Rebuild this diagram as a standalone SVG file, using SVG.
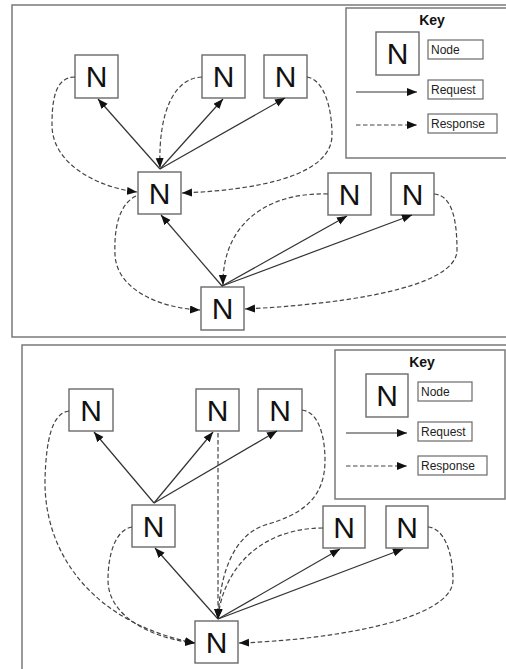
<svg xmlns="http://www.w3.org/2000/svg" width="506" height="669" viewBox="0 0 506 669">
<style>
.frame{fill:#fff;stroke:#7a7a7a;stroke-width:1.5}
.box{fill:#fff;stroke:#6a6a6a;stroke-width:1.4}
.lbl{fill:#fff;stroke:#6a6a6a;stroke-width:1.2}
.n{font-family:"Liberation Sans",Arial,sans-serif;font-size:30px;fill:#111;text-anchor:middle}
.t{font-family:"Liberation Sans",Arial,sans-serif;font-size:12px;fill:#222}
.k{font-family:"Liberation Sans",Arial,sans-serif;font-size:14px;font-weight:bold;fill:#111;text-anchor:middle}
.req{fill:none;stroke:#333;stroke-width:1.2;marker-end:url(#ah)}
.res{fill:none;stroke:#444;stroke-width:1.2;stroke-dasharray:4.5,2.5;marker-end:url(#ah)}
</style>
<defs>
<marker id="ah" markerUnits="userSpaceOnUse" markerWidth="11" markerHeight="9" refX="10" refY="4" orient="auto">
<path d="M0,0 L10,4 L0,8 z" fill="#111"/>
</marker>
</defs>
<rect width="506" height="669" fill="#fff"/>

<!-- Top diagram -->
<rect class="frame" x="12" y="5" width="520" height="332"/>
<g id="key1">
<rect class="frame" x="346" y="8" width="180" height="150"/>
<text class="k" x="432" y="25">Key</text>
<rect class="box" x="376" y="32" width="43" height="43"/>
<text class="n" x="397.5" y="64">N</text>
<rect class="lbl" x="428" y="40" width="55" height="19"/>
<text class="t" x="431" y="54">Node</text>
<line class="req" x1="356" y1="92" x2="417" y2="92"/>
<rect class="lbl" x="428" y="80" width="55" height="19"/>
<text class="t" x="431" y="94">Request</text>
<line class="res" x1="356" y1="125" x2="417" y2="125"/>
<rect class="lbl" x="428" y="114" width="69" height="19"/>
<text class="t" x="431" y="128">Response</text>
</g>
<g id="a1"><rect class="box" x="75" y="55" width="43" height="43"/><text class="n" x="96.5" y="87">N</text></g>
<g id="a2"><rect class="box" x="202" y="55" width="43" height="43"/><text class="n" x="223.5" y="87">N</text></g>
<g id="a3"><rect class="box" x="264" y="55" width="43" height="43"/><text class="n" x="285.5" y="87">N</text></g>
<g id="a4"><rect class="box" x="138" y="172" width="43" height="42"/><text class="n" x="159.5" y="203.5">N</text></g>
<g id="a5"><rect class="box" x="328" y="173" width="43" height="42"/><text class="n" x="349.5" y="204.5">N</text></g>
<g id="a6"><rect class="box" x="391" y="173" width="43" height="42"/><text class="n" x="412.5" y="204.5">N</text></g>
<g id="a7"><rect class="box" x="201" y="287" width="43" height="43"/><text class="n" x="222.5" y="319">N</text></g>
<g id="edges1">
<line class="req" x1="160" y1="169" x2="98" y2="99"/>
<line class="req" x1="160" y1="169" x2="223" y2="99"/>
<line class="req" x1="160" y1="169" x2="285" y2="98"/>
<line class="req" x1="222" y1="286" x2="161" y2="215"/>
<line class="req" x1="222" y1="286" x2="347" y2="216"/>
<line class="req" x1="222" y1="286" x2="412" y2="215"/>
<path class="res" d="M75,77 C55,77 52,100 52,125 C52,165 100,188 137,192"/>
<path class="res" d="M202,77 C175,78 158,110 160,168"/>
<path class="res" d="M307,77 C325,80 332,110 332,135 C332,175 260,190 182,193"/>
<path class="res" d="M136,196 C118,205 114,230 115,255 C117,290 160,308 200,310"/>
<path class="res" d="M328,194 C260,192 222,230 223,285"/>
<path class="res" d="M434,194 C452,195 457,220 457,250 C457,290 330,305 245,309"/>
</g>

<!-- Bottom diagram -->
<rect class="frame" x="22" y="345" width="520" height="340"/>
<g id="key2">
<rect class="frame" x="335" y="350" width="170" height="149"/>
<text class="k" x="422" y="367">Key</text>
<rect class="box" x="366" y="374" width="42" height="43"/>
<text class="n" x="387" y="406">N</text>
<rect class="lbl" x="418" y="382" width="54" height="19"/>
<text class="t" x="421" y="396">Node</text>
<line class="req" x1="346" y1="433" x2="407" y2="433"/>
<rect class="lbl" x="418" y="422" width="54" height="19"/>
<text class="t" x="421" y="436">Request</text>
<line class="res" x1="346" y1="466" x2="407" y2="466"/>
<rect class="lbl" x="418" y="456" width="69" height="19"/>
<text class="t" x="421" y="470">Response</text>
</g>
<g id="b1"><rect class="box" x="69" y="389" width="44" height="42"/><text class="n" x="91" y="420.5">N</text></g>
<g id="b2"><rect class="box" x="196" y="389" width="43" height="42"/><text class="n" x="217.5" y="420.5">N</text></g>
<g id="b3"><rect class="box" x="258" y="389" width="44" height="42"/><text class="n" x="280" y="420.5">N</text></g>
<g id="b4"><rect class="box" x="132" y="505" width="43" height="42"/><text class="n" x="153.5" y="536.5">N</text></g>
<g id="b5"><rect class="box" x="323" y="506" width="42" height="42"/><text class="n" x="344" y="537.5">N</text></g>
<g id="b6"><rect class="box" x="386" y="506" width="42" height="42"/><text class="n" x="407" y="537.5">N</text></g>
<g id="b7"><rect class="box" x="195" y="621" width="43" height="42"/><text class="n" x="216.5" y="652.5">N</text></g>
<g id="edges2">
<line class="req" x1="154" y1="503" x2="94" y2="432"/>
<line class="req" x1="154" y1="503" x2="213" y2="432"/>
<line class="req" x1="154" y1="503" x2="277" y2="431"/>
<line class="req" x1="218" y1="619" x2="155" y2="548"/>
<line class="req" x1="218" y1="619" x2="340" y2="549"/>
<line class="req" x1="218" y1="619" x2="403" y2="549"/>
<path class="res" d="M69,411 C52,413 46,440 45,480 C44,560 100,625 195,643"/>
<path class="res" d="M218,433 L218,619"/>
<path class="res" d="M302,410 C320,412 325,440 325,460 C325,500 300,515 265,525 C235,535 220,570 218,619"/>
<path class="res" d="M132,527 C115,530 108,555 108,580 C108,620 160,640 195,643"/>
<path class="res" d="M323,528 C260,528 222,570 218,619"/>
<path class="res" d="M428,527 C445,528 453,555 453,580 C453,620 330,640 239,643"/>
</g>
</svg>
